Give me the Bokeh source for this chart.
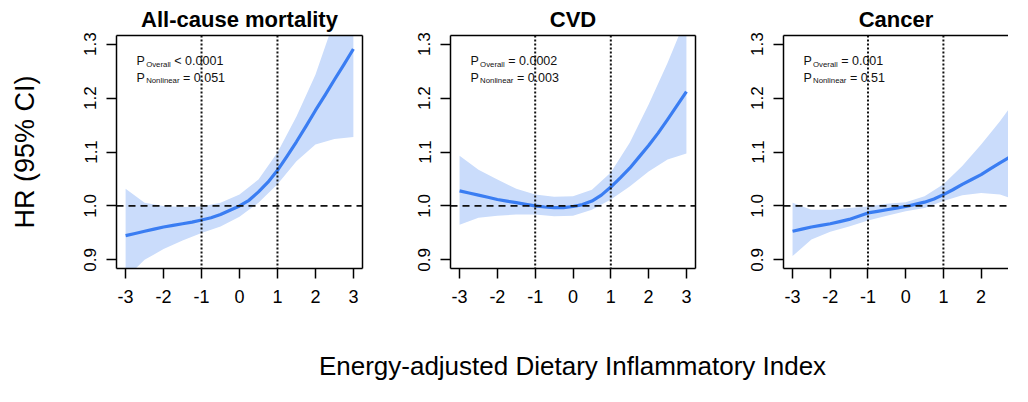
from bokeh.plotting import figure
from bokeh.models import Range1d, FixedTicker, LinearAxis, Span, Label, PrintfTickFormatter
from bokeh.layouts import row, column
from bokeh.embed import file_html
from bokeh.resources import INLINE

# ---------------- data ----------------
# confidence bands, read every 0.5 DII unit
dii = [-3, -2.5, -2, -1.5, -1, -0.5, 0, 0.5, 1, 1.5, 2, 2.5, 3]

allcause_lo = [0.866, 0.900, 0.920, 0.936, 0.950, 0.962, 0.980, 1.006, 1.040, 1.083, 1.114, 1.124, 1.128]
allcause_hi = [1.032, 1.006, 1.000, 0.998, 0.999, 1.006, 1.021, 1.049, 1.099, 1.166, 1.243, 1.345, 1.460]

cvd_lo = [0.965, 0.978, 0.982, 0.984, 0.984, 0.981, 0.982, 0.993, 1.012, 1.036, 1.064, 1.086, 1.097]
cvd_hi = [1.093, 1.067, 1.049, 1.032, 1.021, 1.017, 1.018, 1.030, 1.062, 1.117, 1.188, 1.265, 1.350]

cancer_lo = [0.907, 0.938, 0.952, 0.962, 0.973, 0.982, 0.990, 0.996, 1.009, 1.020, 1.024, 1.021, 1.009]
cancer_hi = [1.006, 0.993, 0.993, 0.996, 0.999, 1.004, 1.007, 1.018, 1.040, 1.074, 1.114, 1.157, 1.205]

# HR curves, read every 0.25 DII unit
dii_fine = [-3, -2.75, -2.5, -2.25, -2, -1.75, -1.5, -1.25, -1, -0.75, -0.5, -0.25, 0,
            0.25, 0.5, 0.75, 1, 1.25, 1.5, 1.75, 2, 2.25, 2.5, 2.75, 3]
allcause_hr = [0.945, 0.949, 0.953, 0.957, 0.961, 0.964, 0.967, 0.970, 0.974, 0.978, 0.984, 0.992, 1.000,
               1.0105, 1.026, 1.044, 1.066, 1.092, 1.119, 1.1475, 1.177, 1.205, 1.234, 1.262, 1.291]
cvd_hr = [1.028, 1.024, 1.020, 1.016, 1.012, 1.009, 1.006, 1.003, 1.000, 0.998, 0.997, 0.997, 0.999,
          1.0025, 1.009, 1.020, 1.035, 1.052, 1.070, 1.091, 1.112, 1.135, 1.160, 1.186, 1.212]
cancer_hr = [0.953, 0.957, 0.961, 0.964, 0.967, 0.971, 0.975, 0.981, 0.987, 0.990, 0.993, 0.996, 0.999,
             1.003, 1.007, 1.013, 1.021, 1.030, 1.040, 1.049, 1.058, 1.069, 1.080, 1.090, 1.101]

panel_titles = ["All-cause mortality", "CVD", "Cancer"]
p_overall = ["< 0.0001", "= 0.0002", "= 0.001"]
p_nonlinear = ["= 0.051", "= 0.003", "= 0.51"]

x_ticks = [-3, -2, -1, 0, 1, 2, 3]
y_ticks = [0.9, 1.0, 1.1, 1.2, 1.3]
ref_x = [-1, 1]
ref_y = 1.0

y_label = "HR (95% CI)"
x_label = "Energy-adjusted Dietary Inflammatory Index"

# ---------------- style ----------------
FONT = "Liberation Sans"
BAND = "#CADCFB"
CURVE = "#3A7DF2"
INK = "#000000"

series = [
    (allcause_hr, allcause_lo, allcause_hi),
    (cvd_hr, cvd_lo, cvd_hi),
    (cancer_hr, cancer_lo, cancer_hi),
]

# figure widths / borders so frames land at the reference positions
layout_specs = [
    dict(width=406, left=116, right=44, xend=3.24, right_axis=True),
    dict(width=333, left=44, right=44, xend=3.24, right_axis=True),
    dict(width=269, left=44, right=0, xend=2.726, right_axis=False),
]

TOP = 35
FRAME_H = 233
BOTTOM = 62
ROW_H = TOP + FRAME_H + BOTTOM


def border_axis():
    return LinearAxis(ticker=FixedTicker(ticks=[]), major_tick_out=0, major_tick_in=0,
                      minor_tick_out=0, minor_tick_in=0,
                      major_label_text_font_size="0px", axis_line_width=1.5,
                      axis_line_color=INK, major_label_standoff=0)


SUB_EM = {"Overall": 3.167, "Nonlinear": 4.279}
MAIN_PX = 12.5
SUB_PX = 7.8

panels = []
for i, spec in enumerate(layout_specs):
    hr, lo, hi = series[i]
    p = figure(width=spec["width"], height=ROW_H,
               x_range=Range1d(-3.24, spec["xend"]), y_range=Range1d(0.884, 1.316),
               output_backend="svg", toolbar_location=None,
               min_border_left=spec["left"], min_border_right=spec["right"],
               min_border_top=TOP, min_border_bottom=BOTTOM)
    p.outline_line_color = None
    p.background_fill_color = "white"
    p.border_fill_color = "white"
    p.xgrid.visible = False
    p.ygrid.visible = False

    # data
    p.varea(x=dii, y1=lo, y2=hi, fill_color=BAND)
    p.line(x=dii_fine, y=hr, line_color=CURVE, line_width=3.2, line_join="round")

    for xv in ref_x:
        p.add_layout(Span(location=xv, dimension="height", line_color="#111111",
                          line_width=2, line_dash="2 2"))
    p.add_layout(Span(location=ref_y, dimension="width", line_color="#111111",
                      line_width=1.8, line_dash="7 5"))

    # axes
    xa = p.xaxis[0]
    xa.ticker = FixedTicker(ticks=x_ticks)
    xa.formatter = PrintfTickFormatter(format="%d")
    ya = p.yaxis[0]
    ya.ticker = FixedTicker(ticks=y_ticks)
    ya.formatter = PrintfTickFormatter(format="%.1f")
    ya.major_label_orientation = "parallel"
    for ax in (xa, ya):
        ax.major_tick_in = 0
        ax.major_tick_out = 10
        ax.minor_tick_line_color = None
        ax.axis_line_width = 1.5
        ax.axis_line_color = INK
        ax.major_tick_line_width = 1.5
        ax.major_tick_line_color = INK
        ax.major_label_text_font = FONT
        ax.major_label_text_color = INK
    xa.major_label_text_font_size = "18px"
    xa.major_label_standoff = 11
    ya.major_label_text_font_size = "17px"
    ya.major_label_standoff = 10

    if i == 0:
        ya.axis_label = y_label
        ya.axis_label_text_font = FONT
        ya.axis_label_text_font_size = "27px"
        ya.axis_label_text_font_style = "normal"
        ya.axis_label_text_color = INK
        ya.axis_label_standoff = 42

    p.add_layout(border_axis(), "above")
    if spec["right_axis"]:
        p.add_layout(border_axis(), "right")

    # title
    p.title.text = panel_titles[i]
    p.title.align = "center"
    p.title.text_font = FONT
    p.title.text_font_size = "22px"
    p.title.text_font_style = "bold"
    p.title.text_color = INK
    p.title.standoff = 8

    # p-value annotations (P with subscript)
    x0 = -2.71
    lines = [("Overall", p_overall[i], 1.2685), ("Nonlinear", p_nonlinear[i], 1.238)]
    for sub, rest, yb in lines:
        p_w = 0.667 * MAIN_PX + 1.2
        sub_w = SUB_EM[sub] * SUB_PX
        space_w = 0.278 * MAIN_PX
        p.add_layout(Label(x=x0, y=yb, text="P", text_font=FONT, text_font_size=f"{MAIN_PX}px",
                           text_color="#111111", text_baseline="alphabetic"))
        p.add_layout(Label(x=x0, y=yb - 0.0058, x_offset=p_w, text=sub, text_font=FONT,
                           text_font_size=f"{SUB_PX}px", text_color="#111111",
                           text_baseline="alphabetic"))
        p.add_layout(Label(x=x0, y=yb, x_offset=p_w + sub_w + space_w, text=rest,
                           text_font=FONT, text_font_size=f"{MAIN_PX}px", text_color="#111111",
                           text_baseline="alphabetic"))
    panels.append(p)

# bottom strip holding the shared x-axis label (y range in page pixels)
STRIP_H = 54
strip_top = 8 + ROW_H
total_w = sum(s["width"] for s in layout_specs)
fx = figure(width=total_w, height=STRIP_H,
            x_range=Range1d(8, 8 + total_w),
            y_range=Range1d(strip_top + STRIP_H, strip_top),
            output_backend="svg", toolbar_location=None, min_border=0,
            x_axis_type=None, y_axis_type=None)
fx.outline_line_color = None
fx.xgrid.visible = False
fx.ygrid.visible = False
fx.add_layout(Label(x=580, y=strip_top + STRIP_H - 4, text=x_label, text_font=FONT,
                    text_font_size="26px", text_color=INK, text_align="center",
                    text_baseline="bottom"))

page = column(row(*panels), fx)
open("out.html", "w").write(file_html(page, INLINE))
